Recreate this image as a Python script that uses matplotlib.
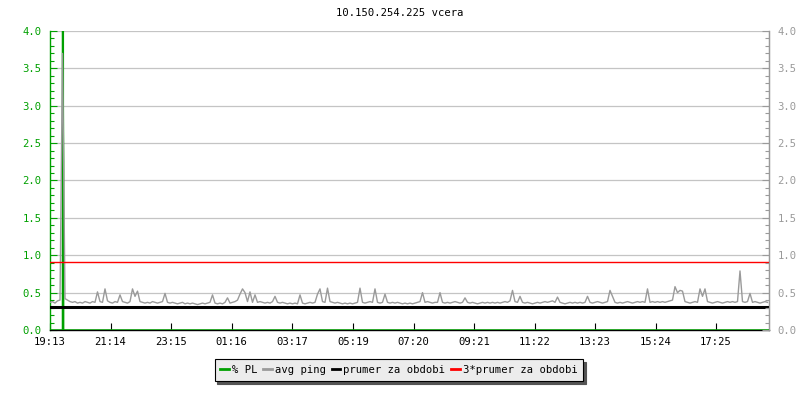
import matplotlib
matplotlib.use("Agg")
import matplotlib.pyplot as plt
from matplotlib.ticker import MultipleLocator, FixedLocator

title = "10.150.254.225 vcera"
start_label = "19:13"
tick_labels = ["19:13", "21:14", "23:15", "01:16", "03:17", "05:19",
               "07:20", "09:21", "11:22", "13:23", "15:24", "17:25"]
period_minutes = 1440
sample_step_min = 5

# avg ping, one value every 5 minutes starting at 19:13 (one row = one hour)
avg_ping = [
    0.37, 0.38, 0.36, 0.39, 0.40, 3.70, 0.42, 0.40, 0.38, 0.37, 0.38, 0.36,
    0.37, 0.36, 0.38, 0.37, 0.36, 0.38, 0.37, 0.51, 0.38, 0.37, 0.55, 0.39,
    0.37, 0.36, 0.38, 0.37, 0.47, 0.38, 0.37, 0.36, 0.38, 0.55, 0.45, 0.52,
    0.38, 0.37, 0.36, 0.37, 0.36, 0.38, 0.37, 0.36, 0.37, 0.38, 0.49, 0.37,
    0.36, 0.37, 0.36, 0.35, 0.36, 0.37, 0.35, 0.36, 0.35, 0.36, 0.35, 0.34,
    0.35, 0.36, 0.35, 0.36, 0.37, 0.47, 0.36, 0.35, 0.36, 0.35, 0.37, 0.43,
    0.36, 0.37, 0.38, 0.40, 0.48, 0.55, 0.50, 0.38, 0.51, 0.37, 0.47, 0.37,
    0.38, 0.37, 0.36, 0.37, 0.36, 0.38, 0.45, 0.37, 0.36, 0.37, 0.36, 0.35,
    0.36, 0.35, 0.36, 0.35, 0.47, 0.36, 0.35, 0.36, 0.37, 0.36, 0.37, 0.48,
    0.55, 0.38, 0.37, 0.56, 0.38, 0.37, 0.36, 0.37, 0.36, 0.35, 0.36, 0.35,
    0.36, 0.35, 0.36, 0.37, 0.56, 0.37, 0.36, 0.37, 0.38, 0.37, 0.55, 0.37,
    0.36, 0.37, 0.48, 0.37, 0.36, 0.37, 0.36, 0.37, 0.36, 0.35, 0.36, 0.35,
    0.36, 0.35, 0.36, 0.37, 0.38, 0.50, 0.37, 0.38, 0.37, 0.36, 0.37, 0.37,
    0.50, 0.37, 0.36, 0.37, 0.36, 0.37, 0.38, 0.37, 0.36, 0.37, 0.43, 0.37,
    0.36, 0.37, 0.36, 0.35, 0.36, 0.37, 0.36, 0.37, 0.36, 0.37, 0.36, 0.37,
    0.36, 0.37, 0.38, 0.37, 0.39, 0.53, 0.38, 0.37, 0.45, 0.37, 0.36, 0.37,
    0.36, 0.35, 0.36, 0.37, 0.36, 0.37, 0.38, 0.37, 0.38, 0.39, 0.37, 0.44,
    0.37, 0.36, 0.35, 0.36, 0.37, 0.36, 0.37, 0.36, 0.37, 0.36, 0.37, 0.45,
    0.37, 0.36, 0.37, 0.38, 0.37, 0.36, 0.37, 0.38, 0.53, 0.45, 0.37, 0.36,
    0.37, 0.36, 0.37, 0.38, 0.37, 0.36, 0.37, 0.38, 0.37, 0.38, 0.37, 0.55,
    0.37, 0.38, 0.37, 0.38, 0.37, 0.38, 0.37, 0.38, 0.39, 0.40, 0.58, 0.50,
    0.53, 0.52, 0.38, 0.37, 0.36, 0.37, 0.38, 0.37, 0.55, 0.45, 0.55, 0.38,
    0.37, 0.36, 0.37, 0.38, 0.37, 0.36, 0.37, 0.38, 0.37, 0.38, 0.37, 0.38,
    0.79, 0.38, 0.37, 0.38, 0.49, 0.37, 0.38, 0.37, 0.36, 0.37, 0.38, 0.37,
]

# % packet loss (minutes since 19:13, value)
pl_minutes = [0, 25.0, 25.0, 26.6, 26.6, 27.2, 27.2, 1440]
pl_values = [0, 0, 6.0, 6.0, 3.0, 2.25, 0, 0]

prumer = 0.303
prumer3 = 0.909

legend_labels = ["% PL", "avg ping", "prumer za obdobi", "3*prumer za obdobi"]

GREEN = "#00a000"
GRAY = "#9a9a9a"
GRID = "#c4c4c4"
FONT = "DejaVu Sans Mono"
FS = 7.6


def to_min(label):
    h, m = map(int, label.split(":"))
    sh, sm = map(int, start_label.split(":"))
    return ((h * 60 + m) - (sh * 60 + sm)) % period_minutes


plt.rcParams["font.family"] = FONT
fig = plt.figure(figsize=(8, 4), dpi=100)
ax = fig.add_axes([50 / 800, 1 - 330 / 400, 719 / 800, 299 / 400])

t = [i * sample_step_min for i in range(len(avg_ping))]

ax.plot(pl_minutes, pl_values, color=GREEN, lw=1.1, label=legend_labels[0], zorder=3)
ax.plot(t, avg_ping, color=GRAY, lw=1.0, label=legend_labels[1], zorder=4)
ax.axhline(prumer, color="black", lw=2.2, label=legend_labels[2], zorder=5)
ax.axhline(prumer3, color="#ff0000", lw=1.0, label=legend_labels[3], zorder=5)

ax.set_xlim(0, period_minutes - 2)
ax.set_ylim(0, 4.0)

ax.yaxis.set_major_locator(MultipleLocator(0.5))
ax.yaxis.set_minor_locator(MultipleLocator(0.1))
ax.grid(axis="y", which="major", color=GRID, lw=0.9, zorder=1)
ax.set_axisbelow(True)
ax.yaxis.set_major_formatter(plt.FormatStrFormatter("%.1f"))

ax.xaxis.set_major_locator(FixedLocator([to_min(l) for l in tick_labels]))
ax.set_xticklabels(tick_labels)

ax.spines["top"].set_visible(False)
ax.spines["left"].set_color(GREEN)
ax.spines["left"].set_linewidth(1.0)
ax.spines["bottom"].set_color("black")
ax.spines["bottom"].set_linewidth(1.0)
ax.spines["right"].set_color(GRAY)
ax.spines["right"].set_linewidth(1.0)

ax.tick_params(axis="y", which="major", direction="in", length=5, width=0.8,
               color=GREEN, labelcolor=GREEN, labelsize=FS, pad=6)
ax.tick_params(axis="y", which="minor", direction="in", length=3, width=0.8, color=GREEN)
ax.tick_params(axis="x", which="major", direction="in", length=5, width=0.8,
               color="black", labelsize=FS, pad=5)

ax2 = ax.twinx()
ax2.set_ylim(0, 4.0)
ax2.yaxis.set_major_locator(MultipleLocator(0.5))
ax2.yaxis.set_minor_locator(MultipleLocator(0.1))
ax2.yaxis.set_major_formatter(plt.FormatStrFormatter("%.1f"))
for s in ("top", "left", "bottom"):
    ax2.spines[s].set_visible(False)
ax2.spines["right"].set_color(GRAY)
ax2.tick_params(axis="y", which="major", direction="in", length=5, width=0.8,
                color=GRAY, labelcolor=GRAY, labelsize=FS, pad=6)
ax2.tick_params(axis="y", which="minor", direction="in", length=3, width=0.8, color=GRAY)

fig.text(0.5, 1 - 13 / 400, title, ha="center", va="center", fontsize=FS, color="black")

handles, labels = ax.get_legend_handles_labels()
leg = fig.legend(handles, labels, loc="center", bbox_to_anchor=(399 / 800, 1 - 370 / 400),
                 ncol=4, frameon=True, fancybox=False, shadow={"color": "#555555", "alpha": 1},
                 edgecolor="black", facecolor="#ececec", framealpha=1,
                 handlelength=0.8, handletextpad=0.3, columnspacing=0.55,
                 borderpad=0.55, borderaxespad=0.0, fontsize=FS)
leg.get_frame().set_linewidth(0.8)
for line in leg.get_lines():
    line.set_linewidth(2.0)

fig.savefig("out.png", dpi=100)
